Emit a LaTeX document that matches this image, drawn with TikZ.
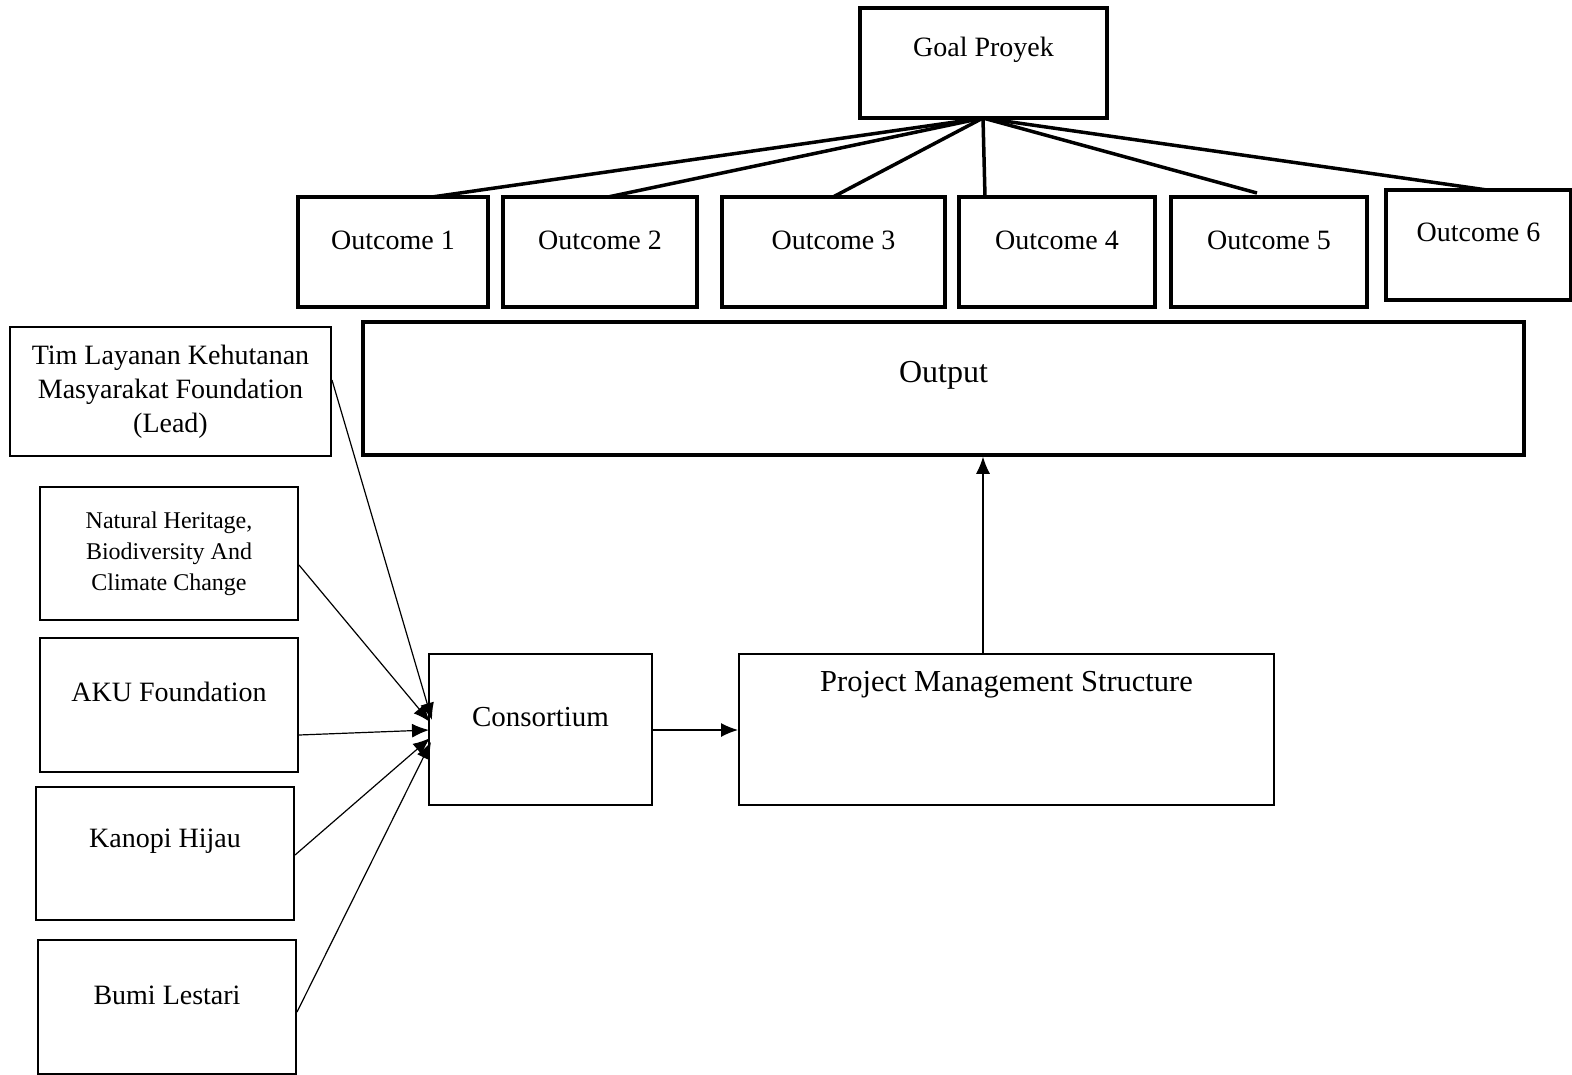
\documentclass[tikz,border=0pt]{standalone}
\usepackage{fontspec}
\setmainfont{Liberation Serif}
\usetikzlibrary{arrows.meta}
\begin{document}
\begin{tikzpicture}[x=1pt,y=-1pt,
  thickbox/.style={draw, line width=3.5pt, inner sep=0pt, font=\fontsize{28}{34}\selectfont},
  thinbox/.style={draw, line width=2pt, inner sep=0pt, align=center, font=\fontsize{28}{34}\selectfont},
  link/.style={line width=3.5pt},
  arr/.style={line width=1.2pt, -{Latex[length=17pt,width=14pt]}}]
\useasboundingbox (0,0) rectangle (1572,1074);
% top
\node[thickbox, minimum width=247pt, minimum height=110pt, label={[yshift=13pt, font=\fontsize{28}{34}\selectfont]center:Goal Proyek}] (goal) at (983.5,63) {};
\node[thickbox, minimum width=190pt, minimum height=110pt, label={[yshift=12pt, font=\fontsize{28}{34}\selectfont]center:Outcome 1}] (o1) at (393,252) {};
\node[thickbox, minimum width=194pt, minimum height=110pt, label={[yshift=12pt, font=\fontsize{28}{34}\selectfont]center:Outcome 2}] (o2) at (600,252) {};
\node[thickbox, minimum width=223pt, minimum height=110pt, label={[yshift=12pt, font=\fontsize{28}{34}\selectfont]center:Outcome 3}] (o3) at (833.5,252) {};
\node[thickbox, minimum width=196pt, minimum height=110pt, label={[yshift=12pt, font=\fontsize{28}{34}\selectfont]center:Outcome 4}] (o4) at (1057,252) {};
\node[thickbox, minimum width=196pt, minimum height=110pt, label={[yshift=12pt, font=\fontsize{28}{34}\selectfont]center:Outcome 5}] (o5) at (1269,252) {};
\node[thickbox, minimum width=185pt, minimum height=110pt, label={[yshift=13pt, font=\fontsize{28}{34}\selectfont]center:Outcome 6}] (o6) at (1478.5,245) {};
\node[thickbox, minimum width=1161pt, minimum height=133pt, label={[yshift=13.5pt, font=\fontsize{32}{38}\selectfont]center:Output}] (output) at (943.5,388.5) {};
% links from goal
\coordinate (gb) at (983,118);
\draw[link] (gb) -- (432,197);
\draw[link] (gb) -- (608,197);
\draw[link] (gb) -- (833,197);
\draw[link] (gb) -- (985,197);
\draw[link] (gb) -- (1257,193);
\draw[link] (gb) -- (1487,190);
% left boxes
\node[thinbox, minimum width=321pt, minimum height=129pt] (tim) at (170.5,391.5) {\raisebox{2.5pt}{\parbox{315pt}{\centering Tim Layanan Kehutanan\\Masyarakat Foundation\\(Lead)}}};
\node[thinbox, minimum width=258pt, minimum height=133pt, font=\fontsize{24}{31}\selectfont] (nat) at (169,553.5) {\raisebox{9.5pt}{\parbox{250pt}{\centering Natural Heritage,\\Biodiversity And\\Climate Change}}};
\node[thinbox, minimum width=258pt, minimum height=134pt, label={[yshift=13pt, font=\fontsize{28}{34}\selectfont]center:AKU Foundation}] (aku) at (169,705) {};
\node[thinbox, minimum width=258pt, minimum height=133pt, label={[yshift=12.5pt, font=\fontsize{28}{34}\selectfont]center:Kanopi Hijau}] (kan) at (165,853.5) {};
\node[thinbox, minimum width=258pt, minimum height=134pt, label={[yshift=12pt, font=\fontsize{28}{34}\selectfont]center:Bumi Lestari}] (bumi) at (167,1007) {};
% middle
\node[thinbox, minimum width=223pt, minimum height=151pt, label={[yshift=12.5pt, font=\fontsize{29}{34}\selectfont]center:Consortium}] (cons) at (540.5,729.5) {};
\node[thinbox, minimum width=535pt, minimum height=151pt, label={[yshift=44.5pt, font=\fontsize{30.5}{36}\selectfont]center:Project Management Structure}] (pms) at (1006.5,729.5) {};
% arrows into consortium
\draw[arr] (tim.east |- 0,380) -- (432,720);
\draw[arr] (nat.east |- 0,565) -- (430,722);
\draw[arr] (aku.east |- 0,735) -- (429,730);
\draw[arr] (kan.east |- 0,855) -- (430,738);
\draw[arr] (bumi.east |- 0,1012) -- (431,742);
% chain
\draw[arr] (cons.east |- 0,730) -- (pms.west |- 0,730);
\draw[arr] (pms.north -| 983,0) -- (output.south -| 983,0);
\end{tikzpicture}
\end{document}
